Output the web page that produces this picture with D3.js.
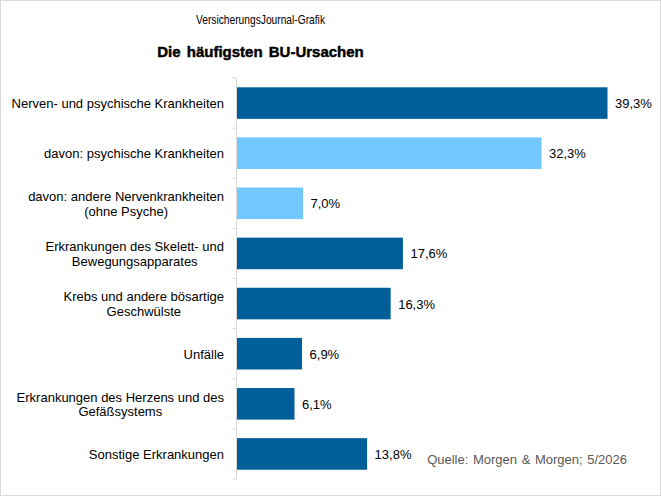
<!DOCTYPE html>
<html>
<head>
<meta charset="utf-8">
<style>
  body { margin: 0; background: #fff; }
  svg { font-family: "Liberation Sans", Arial, sans-serif; }
  .cat { font-size: 13px; fill: #000; }
  .val { font-size: 13px; fill: #000; }
</style>
</head>
<body>
<svg width="661" height="496"></svg>
<script src="https://cdn.jsdelivr.net/npm/d3@7"></script>
<script>
// data
var categories = [
  ["Nerven- und psychische Krankheiten"],
  ["davon: psychische Krankheiten"],
  ["davon: andere Nervenkrankheiten", "(ohne Psyche)"],
  ["Erkrankungen des Skelett- und", "Bewegungsapparates"],
  ["Krebs und andere bösartige", "Geschwülste"],
  ["Unfälle"],
  ["Erkrankungen des Herzens und des", "Gefäßsystems"],
  ["Sonstige Erkrankungen"]
];
var values = [39.3, 32.3, 7.0, 17.6, 16.3, 6.9, 6.1, 13.8];
var isSub = [false, true, true, false, false, false, false, false];

var svg = d3.select("svg");

svg.append("rect")
  .attr("x", 0.5).attr("y", 0.5)
  .attr("width", 660).attr("height", 495)
  .attr("fill", "#fff").attr("stroke", "#d9d9d9");

svg.append("text")
  .attr("x", 196).attr("y", 24)
  .attr("textLength", 129)
  .attr("lengthAdjust", "spacingAndGlyphs")
  .style("font-size", "13px")
  .text("VersicherungsJournal-Grafik");

svg.append("text")
  .attr("x", 260.5).attr("y", 57)
  .attr("text-anchor", "middle")
  .style("font-size", "15px")
  .style("font-weight", "bold")
  .style("stroke", "#000").style("stroke-width", 0.45)
  .style("word-spacing", "2px")
  .text("Die häufigsten BU-Ursachen");

var x0 = 236.5;
var x = d3.scaleLinear().domain([0, 39.3]).range([x0, 607]);
var y = d3.scaleBand().domain(d3.range(categories.length)).range([78, 479]).paddingInner(0.37).paddingOuter(0.185);

// axis line and ticks at band boundaries
svg.append("line")
  .attr("x1", x0).attr("x2", x0).attr("y1", 78).attr("y2", 479)
  .attr("stroke", "#d9d9d9");
svg.selectAll(".tick")
  .data(d3.range(categories.length + 1))
  .enter().append("line")
  .attr("x1", x0 - 4).attr("x2", x0)
  .attr("y1", function(i) { return 78 + i * y.step(); })
  .attr("y2", function(i) { return 78 + i * y.step(); })
  .attr("stroke", "#d9d9d9");

svg.selectAll(".bar")
  .data(values)
  .enter().append("rect")
  .attr("x", x(0) + 0.5)
  .attr("y", function(d, i) { return y(i); })
  .attr("width", function(d) { return x(d) - x(0); })
  .attr("height", y.bandwidth())
  .attr("fill", function(d, i) { return isSub[i] ? "#70c8ff" : "#005f99"; });

svg.selectAll(".val")
  .data(values)
  .enter().append("text")
  .attr("class", "val")
  .attr("x", function(d) { return x(d) + 8; })
  .attr("y", function(d, i) { return y(i) + y.bandwidth() / 2 + 5; })
  .text(function(d) { return d.toFixed(1).replace(".", ",") + "%"; });

// category labels: block right-aligned, lines centered inside block
var rightX = 224;
var lh = 14.5;
categories.forEach(function(lines, i) {
  var cy = y(i) + y.bandwidth() / 2;
  var g = svg.append("g");
  var texts = lines.map(function(l, k) {
    return g.append("text").attr("class", "cat")
      .attr("y", cy + 5 + (k - (lines.length - 1) / 2) * lh)
      .text(l);
  });
  var w = d3.max(texts, function(t) { return t.node().getComputedTextLength(); });
  texts.forEach(function(t) {
    t.attr("x", rightX - w / 2).attr("text-anchor", "middle");
  });
});

svg.append("text")
  .attr("x", 627).attr("y", 464)
  .attr("text-anchor", "end")
  .style("font-size", "13px")
  .style("fill", "#595959")
  .style("word-spacing", "1px")
  .text("Quelle: Morgen & Morgen; 5/2026");
</script>
</body>
</html>
